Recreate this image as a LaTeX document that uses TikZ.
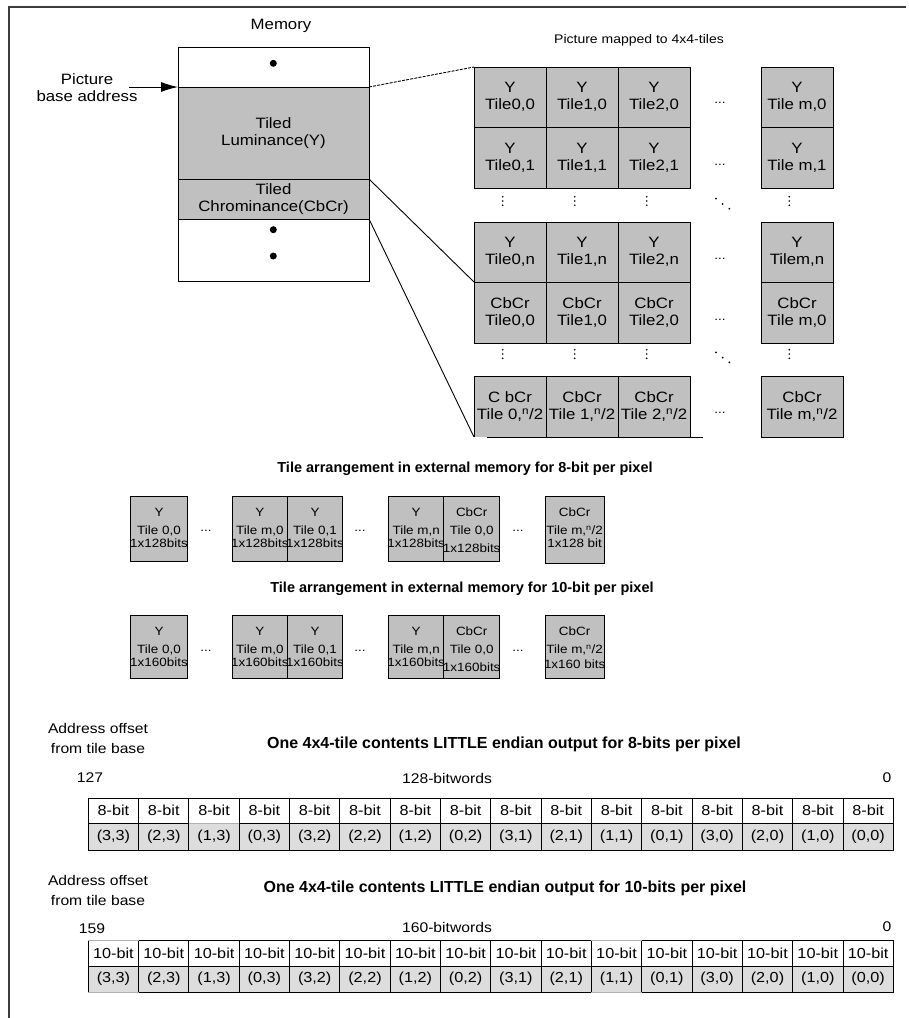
\documentclass[tikz,border=0pt]{standalone}
\usepackage{fontspec}
\setmainfont{Liberation Sans}[FakeStretch=1.12]
\newfontfamily\plainfont{Liberation Sans}
\usetikzlibrary{arrows.meta}

\definecolor{tilegray}{HTML}{C0C0C0}
\definecolor{rowgray}{HTML}{DDDDDD}
\definecolor{framegray}{HTML}{3C3C3C}
\definecolor{softedge}{HTML}{B0B0B0}

\tikzset{
  cellbox/.style={draw, fill=tilegray, inner sep=0pt, outer sep=0pt},
  gridtext/.style={inner sep=0pt, align=center, font=\fontsize{15}{17}\selectfont},
  boxline/.style={inner sep=0pt, anchor=base, font=\fontsize{12}{14}\selectfont},
  lbl/.style={inner sep=0pt, align=center, font=\fontsize{15}{17}\selectfont},
  smalllbl/.style={inner sep=0pt, align=center, font=\fontsize{14}{20}\selectfont},
  membox/.style={draw, minimum width=191pt, inner sep=0pt, outer sep=0pt, align=center, font=\fontsize{15}{17.5}\selectfont},
  arrtitle/.style={inner sep=0pt, font=\plainfont\bfseries\fontsize{14.5}{16}\selectfont},
  tabtitle/.style={inner sep=0pt, font=\plainfont\bfseries\fontsize{16}{18}\selectfont},
  ellip/.style={inner sep=0pt, font=\fontsize{12}{12}\selectfont},
  bitcell/.style={draw, inner sep=0pt, outer sep=0pt, minimum width=50.31pt, font=\fontsize{14.5}{16}\selectfont},
  poscell/.style={draw, fill=rowgray, inner sep=0pt, outer sep=0pt, minimum width=50.31pt, font=\fontsize{14.5}{16}\selectfont},
  vdot/.style={fill=black},
}

% one tile of the picture grid: name, x0, y0, x1, y1, text
\newcommand{\gridcell}[7][]{%
  \node[cellbox, minimum width={#5-#3}, minimum height={#6-#4}, #1] (#2) at ({(#3+#5)/2},{(#4+#6)/2}) {};
  \begin{scope}
    \clip (#2.north west) rectangle (#2.south east);
    \node[gridtext] (#2-txt) at (#2.center) {#7};
  \end{scope}}

% one tile in external memory: name, x0, x1, y0, y1, three lines, offset of the third line
\newcommand{\tilebox}[9]{%
  \node[cellbox, minimum width={#3-#2}, minimum height={#5-#4}] (#1) at ({(#2+#3)/2},{(#4+#5)/2}) {};
  \begin{scope}
    \clip (#1.north west) rectangle (#1.south east);
    \node[boxline] (#1-a) at ({(#2+#3)/2},{#4+20.5}) {#6};
    \node[boxline] (#1-b) at ({(#2+#3)/2},{#4+38.5}) {#7};
    \node[boxline] (#1-c) at ({(#2+#3)/2},{#4+#9}) {#8};
  \end{scope}}

\begin{document}
\begin{tikzpicture}[x=1pt, y=-1pt, line width=0.9pt]
\useasboundingbox (0,0) rectangle (909,1018);

% outer frame (top and left edges only)
\draw[framegray, line width=1.3pt] (9,1018) -- (9,7) -- (906,7);

% ---------------- memory column ----------------
\node[lbl] (memtitle) at (281,26) {Memory};
\node[membox, minimum height=40pt] (memtop) at (273.5,67) {};
\node[membox, fill=tilegray, minimum height=92pt] (memluma) at (273.5,133) {Tiled\\Luminance(Y)};
\node[membox, fill=tilegray, minimum height=40pt] (memchroma) at (273.5,199) {Tiled\\Chrominance(CbCr)};
\node[membox, minimum height=62pt] (membot) at (273.5,250) {};
\fill (273.3,63.3) circle (3.5);
\fill (273.3,229.7) circle (3.5);
\fill (273.3,256) circle (3.5);

\node[lbl] (pba) at (87,87.5) {Picture\\base address};
\coordinate (pbatail) at (129,87);
\draw[-{Latex[length=17pt,width=10pt]}] (pbatail) -- (memluma.north west);

% ---------------- picture mapped to tiles ----------------
\node[inner sep=0pt, font=\fontsize{12.5}{14}\selectfont] (maptitle) at (639,40) {Picture mapped to 4x4-tiles};

\gridcell{g10}{474}{67}{546}{127}{Y\\Tile0,0}
\gridcell{g11}{546}{67}{618}{127}{Y\\Tile1,0}
\gridcell{g12}{618}{67}{690}{127}{Y\\Tile2,0}
\gridcell{g1m}{761}{67}{833}{127}{Y\\Tile m,0}

\gridcell{g20}{474}{127}{546}{188}{Y\\Tile0,1}
\gridcell{g21}{546}{127}{618}{188}{Y\\Tile1,1}
\gridcell{g22}{618}{127}{690}{188}{Y\\Tile2,1}
\gridcell{g2m}{761}{127}{833}{188}{Y\\Tile m,1}

\gridcell{g30}{474}{222}{546}{282}{Y\\Tile0,n}
\gridcell{g31}{546}{222}{618}{282}{Y\\Tile1,n}
\gridcell{g32}{618}{222}{690}{282}{Y\\Tile2,n}
\gridcell{g3m}{761}{222}{833}{282}{Y\\Tilem,n}

\gridcell{g40}{474}{282}{546}{343}{CbCr\\Tile0,0}
\gridcell{g41}{546}{282}{618}{343}{CbCr\\Tile1,0}
\gridcell{g42}{618}{282}{690}{343}{CbCr\\Tile2,0}
\gridcell{g4m}{761}{282}{833}{343}{CbCr\\Tile m,0}

\gridcell[draw=none]{g50}{474}{376}{546}{437}{C bCr\\Tile 0,\textsuperscript{n}/2}
\gridcell[draw=none]{g51}{546}{376}{618}{437}{CbCr\\Tile 1,\textsuperscript{n}/2}
\gridcell[draw=none]{g52}{618}{376}{690}{437}{CbCr\\Tile 2,\textsuperscript{n}/2}
\gridcell{g5m}{761}{376}{843}{437}{CbCr\\Tile m,\textsuperscript{n}/2}
\draw (g50.south west) -- (g50.north west) -- (g52.north east) -- (g52.south east);
\draw (g51.north west) -- (g51.south west);
\draw (g51.north east) -- (g51.south east);
\draw ([xshift=12.7pt]g50.south west) -- ([xshift=13pt]g52.south east);

% horizontal ellipses between the columns
\foreach \y [count=\k] in {103,165,259,320,413}
  \node[ellip] (hdots\k) at (720,\y) {...};
% vertical ellipses
\foreach \x in {502.7,574.7,646.7,789.3}
  \foreach \y in {201,354} {
    \fill[vdot] (\x,\y-4.3) circle (0.9);
    \fill[vdot] (\x,\y) circle (0.9);
    \fill[vdot] (\x,\y+4.3) circle (0.9);
  }
% diagonal ellipses
\foreach \y in {0,153.6} {
  \fill[vdot] (716,198.7+\y) circle (1);
  \fill[vdot] (722.7,204+\y) circle (1);
  \fill[vdot] (729.3,208.7+\y) circle (1);
}

% connectors from memory regions to the tile grid
\draw[dash pattern=on 3pt off 1.2pt] (memluma.north east) -- (g10.north west);
\draw (memchroma.north east) -- (g40.north west);
\draw (membot.north east) -- (g50.south west);

% ---------------- tile arrangement, 8 bit ----------------
\node[arrtitle] (arr8title) at (465,469) {Tile arrangement in external memory for 8-bit per pixel};
\tilebox{a81}{130.7}{187.3}{496}{561}{Y}{Tile 0,0}{1x128bits}{51}
\tilebox{a82}{232}{287.7}{496}{561}{Y}{Tile m,0}{1x128bits}{51}
\tilebox{a83}{287.7}{342.3}{496}{561}{Y}{Tile 0,1}{1x128bits}{51}
\tilebox{a84}{388.7}{443.7}{496}{561}{Y}{Tile m,n}{1x128bits}{51}
\tilebox{a85}{443.7}{499.7}{496}{561}{CbCr}{Tile 0,0}{1x128bits}{56}
\tilebox{a86}{545}{604.3}{496}{563}{CbCr}{Tile m,\textsuperscript{n}/2}{1x128 bit}{51}
\node[ellip] (a8d1) at (206,531) {...};
\node[ellip] (a8d2) at (360,531) {...};
\node[ellip] (a8d3) at (518,531) {...};

% ---------------- tile arrangement, 10 bit ----------------
\node[arrtitle] (arr10title) at (462,589) {Tile arrangement in external memory for 10-bit per pixel};
\tilebox{a101}{130.7}{187.3}{615}{678}{Y}{Tile 0,0}{1x160bits}{51.8}
\tilebox{a102}{232}{287.7}{615}{678}{Y}{Tile m,0}{1x160bits}{51.8}
\tilebox{a103}{287.7}{342.3}{615}{678}{Y}{Tile 0,1}{1x160bits}{51.8}
\tilebox{a104}{388.7}{443.7}{615}{678}{Y}{Tile m,n}{1x160bits}{51.8}
\tilebox{a105}{443.7}{499.7}{615}{678}{CbCr}{Tile 0,0}{1x160bits}{56.2}
\tilebox{a106}{545}{604.3}{615}{678}{CbCr}{Tile m,\textsuperscript{n}/2}{1x160 bits}{53.5}
\node[ellip] (a10d1) at (206,651) {...};
\node[ellip] (a10d2) at (360,651) {...};
\node[ellip] (a10d3) at (518,651) {...};

% ---------------- 128-bit word layout ----------------
\node[smalllbl] (addr8) at (98,738) {Address offset\\from tile base};
\node[tabtitle] (tab8title) at (504,744) {One 4x4-tile contents LITTLE endian output for 8-bits per pixel};
\node[smalllbl] (msb8) at (90,778) {127};
\node[smalllbl] (word8) at (447,778) {128-bitwords};
\node[smalllbl] (lsb8) at (887,778) {0};
\foreach \i/\lab in {0/{(3,3)},1/{(2,3)},2/{(1,3)},3/{(0,3)},4/{(3,2)},5/{(2,2)},6/{(1,2)},7/{(0,2)},
                     8/{(3,1)},9/{(2,1)},10/{(1,1)},11/{(0,1)},12/{(3,0)},13/{(2,0)},14/{(1,0)},15/{(0,0)}} {
  \node[bitcell, minimum height=25pt] (b8-\i) at ({88.3+50.31*\i+25.155},810.5) {8-bit};
  \node[poscell, minimum height=27pt] (p8-\i) at ({88.3+50.31*\i+25.155},836.5) {\lab};
}
\draw[softedge] (p8-2.north west) -- (p8-2.north east);

% ---------------- 160-bit word layout ----------------
\node[smalllbl] (addr10) at (98,890) {Address offset\\from tile base};
\node[tabtitle] (tab10title) at (505,888) {One 4x4-tile contents LITTLE endian output for 10-bits per pixel};
\node[smalllbl] (msb10) at (92,929) {159};
\node[smalllbl] (word10) at (447,927) {160-bitwords};
\node[smalllbl] (lsb10) at (887,927) {0};
\foreach \i/\lab in {0/{(3,3)},1/{(2,3)},2/{(1,3)},3/{(0,3)},4/{(3,2)},5/{(2,2)},6/{(1,2)},7/{(0,2)},
                     8/{(3,1)},9/{(2,1)},10/{(1,1)},11/{(0,1)},12/{(3,0)},13/{(2,0)},14/{(1,0)},15/{(0,0)}} {
  \node[bitcell, minimum height=26pt] (b10-\i) at ({88.3+50.31*\i+25.155},953) {10-bit};
  \node[poscell, minimum height=26pt] (p10-\i) at ({88.3+50.31*\i+25.155},979) {\lab};
}
\draw[softedge] (b10-0.north west) -- (b10-0.north east);
\draw[softedge] (p10-0.south west) -- (p10-0.south east);
\draw[softedge] (b10-10.north west) -- (b10-10.north east);
\draw[softedge] (p10-10.south west) -- (p10-10.south east);
\end{tikzpicture}
\end{document}
